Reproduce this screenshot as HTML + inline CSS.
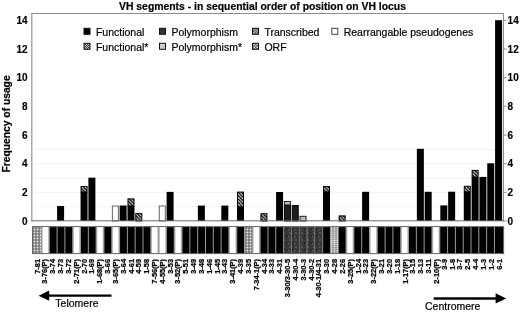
<!DOCTYPE html><html><head><meta charset="utf-8"><style>html,body{margin:0;padding:0;background:#fff;}svg{display:block;will-change:transform;}text{font-family:"Liberation Sans",sans-serif;}</style></head><body>
<svg width="520" height="312" viewBox="0 0 520 312">
<defs>
<pattern id="hatch" patternUnits="userSpaceOnUse" width="3.4" height="3.4"><rect width="3.4" height="3.4" fill="#000"/><path d="M-1,-1 L4.4,4.4 M-1,2.4 L1,4.4 M2.4,-1 L4.4,1" stroke="#fff" stroke-width="1.05"/></pattern>
<pattern id="dots" patternUnits="userSpaceOnUse" width="3" height="3"><rect width="3" height="3" fill="#777"/><circle cx="1.5" cy="1.5" r="0.9" fill="#eee"/></pattern>
<pattern id="ldots" patternUnits="userSpaceOnUse" width="3" height="2.1"><rect width="3" height="2.1" fill="#8a8a8a"/><ellipse cx="1.5" cy="1.05" rx="1.15" ry="0.75" fill="#fafafa"/></pattern>
<pattern id="gtex" patternUnits="userSpaceOnUse" width="6" height="7"><rect width="6" height="7" fill="#383838"/><rect x="1" y="1" width="2" height="2" fill="#555"/><rect x="4" y="4" width="1.5" height="2" fill="#222"/><rect x="0" y="5" width="1.5" height="1.5" fill="#5a5a5a"/><rect x="3.5" y="0.5" width="1.5" height="1.5" fill="#2a2a2a"/></pattern>
<pattern id="chk" patternUnits="userSpaceOnUse" width="2" height="2"><rect width="2" height="2" fill="#333"/><rect width="1" height="1" fill="#ccc"/><rect x="1" y="1" width="1" height="1" fill="#ccc"/></pattern>
<pattern id="hatchL" patternUnits="userSpaceOnUse" width="2.6" height="2.6"><rect width="2.6" height="2.6" fill="#222"/><path d="M-1,-1 L3.6,3.6 M-1,1.6 L1,3.6 M1.6,-1 L3.6,1" stroke="#eee" stroke-width="0.9"/></pattern>
<pattern id="orf" patternUnits="userSpaceOnUse" width="3" height="3"><rect width="3" height="3" fill="#444"/><rect width="1.5" height="1.5" fill="#e0e0e0"/><rect x="1.5" y="1.5" width="1.5" height="1.5" fill="#e0e0e0"/></pattern>
<linearGradient id="wg" x1="0" x2="1" y1="0" y2="0"><stop offset="0" stop-color="#999"/><stop offset="0.2" stop-color="#fff"/><stop offset="0.8" stop-color="#fff"/><stop offset="1" stop-color="#999"/></linearGradient>
</defs>
<text x="119" y="9.6" font-size="10" font-weight="bold" stroke="#000" stroke-width="0.2" textLength="287" lengthAdjust="spacingAndGlyphs">VH segments - in sequential order of position on VH locus</text>
<line x1="32" x2="503" y1="206.67" y2="206.67" stroke="#eeeeee" stroke-width="0.7"/>
<line x1="32" x2="503" y1="192.34" y2="192.34" stroke="#eeeeee" stroke-width="0.7"/>
<line x1="32" x2="503" y1="178.01" y2="178.01" stroke="#eeeeee" stroke-width="0.7"/>
<line x1="32" x2="503" y1="163.68" y2="163.68" stroke="#eeeeee" stroke-width="0.7"/>
<line x1="32" x2="503" y1="149.35" y2="149.35" stroke="#eeeeee" stroke-width="0.7"/>
<line x1="31.1" x2="504" y1="13.5" y2="13.5" stroke="#8c8c8c" stroke-width="1"/>
<line x1="31.8" x2="31.8" y1="13" y2="221.3" stroke="#8c8c8c" stroke-width="1.1"/>
<line x1="503.5" x2="503.5" y1="13" y2="221.3" stroke="#8c8c8c" stroke-width="1"/>
<text x="27.6" y="224.60" font-size="10" font-weight="bold" text-anchor="end" stroke="#000" stroke-width="0.15">0</text>
<line x1="503.5" x2="506.5" y1="221.00" y2="221.00" stroke="#8a8a8a" stroke-width="1"/>
<text x="507.6" y="224.60" font-size="10" font-weight="bold" stroke="#000" stroke-width="0.15">0</text>
<text x="27.6" y="195.94" font-size="10" font-weight="bold" text-anchor="end" stroke="#000" stroke-width="0.15">2</text>
<line x1="503.5" x2="506.5" y1="192.34" y2="192.34" stroke="#8a8a8a" stroke-width="1"/>
<text x="507.6" y="195.94" font-size="10" font-weight="bold" stroke="#000" stroke-width="0.15">2</text>
<text x="27.6" y="167.28" font-size="10" font-weight="bold" text-anchor="end" stroke="#000" stroke-width="0.15">4</text>
<line x1="503.5" x2="506.5" y1="163.68" y2="163.68" stroke="#8a8a8a" stroke-width="1"/>
<text x="507.6" y="167.28" font-size="10" font-weight="bold" stroke="#000" stroke-width="0.15">4</text>
<text x="27.6" y="138.62" font-size="10" font-weight="bold" text-anchor="end" stroke="#000" stroke-width="0.15">6</text>
<line x1="503.5" x2="506.5" y1="135.02" y2="135.02" stroke="#8a8a8a" stroke-width="1"/>
<text x="507.6" y="138.62" font-size="10" font-weight="bold" stroke="#000" stroke-width="0.15">6</text>
<text x="27.6" y="109.96" font-size="10" font-weight="bold" text-anchor="end" stroke="#000" stroke-width="0.15">8</text>
<line x1="503.5" x2="506.5" y1="106.36" y2="106.36" stroke="#8a8a8a" stroke-width="1"/>
<text x="507.6" y="109.96" font-size="10" font-weight="bold" stroke="#000" stroke-width="0.15">8</text>
<text x="27.6" y="81.30" font-size="10" font-weight="bold" text-anchor="end" stroke="#000" stroke-width="0.15">10</text>
<line x1="503.5" x2="506.5" y1="77.70" y2="77.70" stroke="#8a8a8a" stroke-width="1"/>
<text x="507.6" y="81.30" font-size="10" font-weight="bold" stroke="#000" stroke-width="0.15">10</text>
<text x="27.6" y="52.64" font-size="10" font-weight="bold" text-anchor="end" stroke="#000" stroke-width="0.15">12</text>
<line x1="503.5" x2="506.5" y1="49.04" y2="49.04" stroke="#8a8a8a" stroke-width="1"/>
<text x="507.6" y="52.64" font-size="10" font-weight="bold" stroke="#000" stroke-width="0.15">12</text>
<text x="27.6" y="23.98" font-size="10" font-weight="bold" text-anchor="end" stroke="#000" stroke-width="0.15">14</text>
<line x1="503.5" x2="506.5" y1="20.38" y2="20.38" stroke="#8a8a8a" stroke-width="1"/>
<text x="507.6" y="23.98" font-size="10" font-weight="bold" stroke="#000" stroke-width="0.15">14</text>
<text transform="translate(9.6,172.4) rotate(-90)" font-size="10.3" font-weight="bold" stroke="#000" stroke-width="0.2" textLength="97" lengthAdjust="spacingAndGlyphs">Frequency of usage</text>
<rect x="84.0" y="28.3" width="6" height="6" fill="#000" stroke="#111" stroke-width="1"/>
<text x="95.9" y="35.8" font-size="10.5" stroke="#000" stroke-width="0.2">Functional</text>
<rect x="159.5" y="28.3" width="6" height="6" fill="#333" stroke="#111" stroke-width="1"/>
<text x="171.4" y="35.8" font-size="10.5" stroke="#000" stroke-width="0.2">Polymorphism</text>
<rect x="252.5" y="28.3" width="6" height="6" fill="url(#hatchL)" stroke="#111" stroke-width="1"/>
<text x="264.4" y="35.8" font-size="10.5" stroke="#000" stroke-width="0.2">Transcribed</text>
<rect x="331.8" y="28.3" width="6" height="6" fill="#fff" stroke="#444" stroke-width="1"/>
<text x="343.7" y="35.8" font-size="10.5" stroke="#000" stroke-width="0.2">Rearrangable pseudogenes</text>
<rect x="84.0" y="43.3" width="6" height="6" fill="url(#chk)" stroke="#111" stroke-width="1"/>
<text x="95.9" y="51.1" font-size="10.5" stroke="#000" stroke-width="0.2">Functional*</text>
<rect x="159.5" y="43.3" width="6" height="6" fill="#ccc" stroke="#111" stroke-width="1"/>
<text x="171.4" y="51.1" font-size="10.5" stroke="#000" stroke-width="0.2">Polymorphism*</text>
<rect x="252.5" y="43.3" width="6" height="6" fill="url(#orf)" stroke="#111" stroke-width="1"/>
<text x="264.4" y="51.1" font-size="10.5" stroke="#000" stroke-width="0.2">ORF</text>
<rect x="57.09" y="206.00" width="7.00" height="15.00" fill="#000"/>
<rect x="80.56" y="191.90" width="7.00" height="29.10" fill="#000"/>
<rect x="81.06" y="186.50" width="6.00" height="5.40" fill="url(#hatch)" stroke="#000" stroke-width="1"/>
<rect x="88.38" y="177.70" width="7.00" height="43.30" fill="#000"/>
<rect x="112.34" y="206.00" width="6.00" height="15.00" fill="#fff" stroke="#555" stroke-width="0.9"/>
<rect x="119.66" y="205.50" width="7.00" height="15.50" fill="#000"/>
<rect x="127.48" y="206.00" width="7.00" height="15.00" fill="#000"/>
<rect x="127.98" y="198.90" width="6.00" height="7.10" fill="url(#hatch)" stroke="#000" stroke-width="1"/>
<rect x="135.80" y="213.60" width="6.00" height="7.40" fill="url(#hatch)" stroke="#000" stroke-width="1"/>
<rect x="159.27" y="206.00" width="6.00" height="15.00" fill="#fff" stroke="#555" stroke-width="0.9"/>
<rect x="166.59" y="191.90" width="7.00" height="29.10" fill="#000"/>
<rect x="197.87" y="205.60" width="7.00" height="15.40" fill="#000"/>
<rect x="221.33" y="205.60" width="7.00" height="15.40" fill="#000"/>
<rect x="236.98" y="206.80" width="7.00" height="14.20" fill="#000"/>
<rect x="237.48" y="192.10" width="6.00" height="14.70" fill="url(#hatch)" stroke="#000" stroke-width="1"/>
<rect x="260.94" y="213.70" width="6.00" height="7.30" fill="url(#hatch)" stroke="#000" stroke-width="1"/>
<rect x="276.08" y="192.00" width="7.00" height="29.00" fill="#000"/>
<rect x="284.40" y="205.40" width="6.00" height="15.60" fill="#1e1e1e" stroke="#000" stroke-width="1"/>
<rect x="284.40" y="201.50" width="6.00" height="3.40" fill="#bbb" stroke="#222" stroke-width="1"/>
<rect x="292.22" y="205.60" width="6.00" height="15.40" fill="#1e1e1e" stroke="#000" stroke-width="1"/>
<rect x="300.04" y="216.30" width="6.00" height="4.70" fill="#bbb" stroke="#222" stroke-width="1"/>
<rect x="323.01" y="191.80" width="7.00" height="29.20" fill="#000"/>
<rect x="323.51" y="186.60" width="6.00" height="5.20" fill="url(#hatch)" stroke="#000" stroke-width="1"/>
<rect x="339.15" y="215.90" width="6.00" height="5.10" fill="url(#hatch)" stroke="#000" stroke-width="1"/>
<rect x="362.11" y="191.80" width="7.00" height="29.20" fill="#000"/>
<rect x="416.86" y="148.80" width="7.00" height="72.20" fill="#000"/>
<rect x="424.68" y="191.80" width="7.00" height="29.20" fill="#000"/>
<rect x="440.32" y="205.40" width="7.00" height="15.60" fill="#000"/>
<rect x="448.14" y="191.70" width="7.00" height="29.30" fill="#000"/>
<rect x="463.78" y="191.80" width="7.00" height="29.20" fill="#000"/>
<rect x="464.28" y="186.30" width="6.00" height="5.50" fill="url(#hatch)" stroke="#000" stroke-width="1"/>
<rect x="471.61" y="176.90" width="7.00" height="44.10" fill="#000"/>
<rect x="472.11" y="170.40" width="6.00" height="6.50" fill="url(#hatch)" stroke="#000" stroke-width="1"/>
<rect x="479.43" y="176.90" width="7.00" height="44.10" fill="#000"/>
<rect x="487.25" y="163.30" width="7.00" height="57.70" fill="#000"/>
<rect x="495.07" y="20.20" width="7.00" height="200.80" fill="#000"/>
<line x1="31.3" x2="504" y1="220.8" y2="220.8" stroke="#6a6a6a" stroke-width="1"/>
<rect x="32.4" y="226.6" width="471.30" height="27.10" fill="#9a9a9a"/>
<rect x="32.70" y="227.10" width="8.46" height="26.10" fill="url(#dots)"/>
<rect x="41.76" y="227.10" width="7.21" height="26.10" fill="url(#wg)"/>
<rect x="49.77" y="227.10" width="6.81" height="26.10" fill="#000"/>
<rect x="57.58" y="227.10" width="6.81" height="26.10" fill="#000"/>
<rect x="65.39" y="227.10" width="6.81" height="26.10" fill="#000"/>
<rect x="73.00" y="227.10" width="7.21" height="26.10" fill="url(#wg)"/>
<rect x="81.01" y="227.10" width="6.81" height="26.10" fill="#000"/>
<rect x="88.82" y="227.10" width="6.81" height="26.10" fill="#000"/>
<rect x="96.43" y="227.10" width="7.21" height="26.10" fill="url(#wg)"/>
<rect x="104.44" y="227.10" width="6.81" height="26.10" fill="#000"/>
<rect x="112.05" y="227.10" width="7.21" height="26.10" fill="url(#wg)"/>
<rect x="120.06" y="227.10" width="6.81" height="26.10" fill="#000"/>
<rect x="127.87" y="227.10" width="6.81" height="26.10" fill="#000"/>
<rect x="135.68" y="227.10" width="6.81" height="26.10" fill="#000"/>
<rect x="143.49" y="227.10" width="6.81" height="26.10" fill="#000"/>
<rect x="151.10" y="227.10" width="7.21" height="26.10" fill="url(#wg)"/>
<rect x="158.91" y="227.10" width="7.21" height="26.10" fill="url(#wg)"/>
<rect x="166.92" y="227.10" width="6.81" height="26.10" fill="#000"/>
<rect x="174.53" y="227.10" width="7.21" height="26.10" fill="url(#wg)"/>
<rect x="182.54" y="227.10" width="6.81" height="26.10" fill="#000"/>
<rect x="190.35" y="227.10" width="6.81" height="26.10" fill="#000"/>
<rect x="198.16" y="227.10" width="6.81" height="26.10" fill="#000"/>
<rect x="205.97" y="227.10" width="6.81" height="26.10" fill="#000"/>
<rect x="213.78" y="227.10" width="6.81" height="26.10" fill="#000"/>
<rect x="221.59" y="227.10" width="6.81" height="26.10" fill="#000"/>
<rect x="229.20" y="227.10" width="7.21" height="26.10" fill="url(#wg)"/>
<rect x="237.21" y="227.10" width="6.81" height="26.10" fill="#000"/>
<rect x="244.82" y="227.10" width="7.21" height="26.10" fill="url(#dots)"/>
<rect x="252.63" y="227.10" width="7.21" height="26.10" fill="url(#wg)"/>
<rect x="260.64" y="227.10" width="6.81" height="26.10" fill="#000"/>
<rect x="268.45" y="227.10" width="6.81" height="26.10" fill="#000"/>
<rect x="276.26" y="227.10" width="6.81" height="26.10" fill="#000"/>
<rect x="283.87" y="227.10" width="7.21" height="26.10" fill="url(#gtex)"/>
<rect x="291.68" y="227.10" width="7.21" height="26.10" fill="url(#gtex)"/>
<rect x="299.49" y="227.10" width="7.21" height="26.10" fill="url(#gtex)"/>
<rect x="307.30" y="227.10" width="7.21" height="26.10" fill="url(#gtex)"/>
<rect x="315.11" y="227.10" width="7.21" height="26.10" fill="url(#gtex)"/>
<rect x="323.12" y="227.10" width="6.81" height="26.10" fill="#000"/>
<rect x="330.73" y="227.10" width="7.21" height="26.10" fill="url(#ldots)"/>
<rect x="338.74" y="227.10" width="6.81" height="26.10" fill="#000"/>
<rect x="346.35" y="227.10" width="7.21" height="26.10" fill="url(#wg)"/>
<rect x="354.36" y="227.10" width="6.81" height="26.10" fill="#000"/>
<rect x="362.17" y="227.10" width="6.81" height="26.10" fill="#000"/>
<rect x="369.78" y="227.10" width="7.21" height="26.10" fill="url(#wg)"/>
<rect x="377.79" y="227.10" width="6.81" height="26.10" fill="#000"/>
<rect x="385.60" y="227.10" width="6.81" height="26.10" fill="#000"/>
<rect x="393.41" y="227.10" width="6.81" height="26.10" fill="#000"/>
<rect x="401.02" y="227.10" width="7.21" height="26.10" fill="url(#wg)"/>
<rect x="409.03" y="227.10" width="6.81" height="26.10" fill="#000"/>
<rect x="416.84" y="227.10" width="6.81" height="26.10" fill="#000"/>
<rect x="424.65" y="227.10" width="6.81" height="26.10" fill="#000"/>
<rect x="432.26" y="227.10" width="7.21" height="26.10" fill="url(#wg)"/>
<rect x="440.27" y="227.10" width="6.81" height="26.10" fill="#000"/>
<rect x="448.08" y="227.10" width="6.81" height="26.10" fill="#000"/>
<rect x="455.89" y="227.10" width="6.81" height="26.10" fill="#000"/>
<rect x="463.70" y="227.10" width="6.81" height="26.10" fill="#000"/>
<rect x="471.51" y="227.10" width="6.81" height="26.10" fill="#000"/>
<rect x="479.32" y="227.10" width="6.81" height="26.10" fill="#000"/>
<rect x="487.13" y="227.10" width="6.81" height="26.10" fill="#000"/>
<rect x="494.94" y="227.10" width="8.26" height="26.10" fill="#000"/>
<rect x="32.4" y="226.6" width="471.30" height="27.10" fill="none" stroke="#555" stroke-width="0.8"/>
<text transform="translate(39.55,259) rotate(-90)" font-size="7.4" font-weight="bold" text-anchor="end" stroke="#000" stroke-width="0.25">7-81</text>
<text transform="translate(47.38,259) rotate(-90)" font-size="7.4" font-weight="bold" text-anchor="end" stroke="#000" stroke-width="0.25">3-76(P)</text>
<text transform="translate(55.21,259) rotate(-90)" font-size="7.4" font-weight="bold" text-anchor="end" stroke="#000" stroke-width="0.25">3-74</text>
<text transform="translate(63.04,259) rotate(-90)" font-size="7.4" font-weight="bold" text-anchor="end" stroke="#000" stroke-width="0.25">3-73</text>
<text transform="translate(70.87,259) rotate(-90)" font-size="7.4" font-weight="bold" text-anchor="end" stroke="#000" stroke-width="0.25">3-72</text>
<text transform="translate(78.70,259) rotate(-90)" font-size="7.4" font-weight="bold" text-anchor="end" stroke="#000" stroke-width="0.25">2-71(P)</text>
<text transform="translate(86.53,259) rotate(-90)" font-size="7.4" font-weight="bold" text-anchor="end" stroke="#000" stroke-width="0.25">2-70</text>
<text transform="translate(94.36,259) rotate(-90)" font-size="7.4" font-weight="bold" text-anchor="end" stroke="#000" stroke-width="0.25">1-69</text>
<text transform="translate(102.19,259) rotate(-90)" font-size="7.4" font-weight="bold" text-anchor="end" stroke="#000" stroke-width="0.25">1-68(P)</text>
<text transform="translate(110.02,259) rotate(-90)" font-size="7.4" font-weight="bold" text-anchor="end" stroke="#000" stroke-width="0.25">3-66</text>
<text transform="translate(117.85,259) rotate(-90)" font-size="7.4" font-weight="bold" text-anchor="end" stroke="#000" stroke-width="0.25">3-65(P)</text>
<text transform="translate(125.68,259) rotate(-90)" font-size="7.4" font-weight="bold" text-anchor="end" stroke="#000" stroke-width="0.25">3-64</text>
<text transform="translate(133.51,259) rotate(-90)" font-size="7.4" font-weight="bold" text-anchor="end" stroke="#000" stroke-width="0.25">4-61</text>
<text transform="translate(141.34,259) rotate(-90)" font-size="7.4" font-weight="bold" text-anchor="end" stroke="#000" stroke-width="0.25">4-59</text>
<text transform="translate(149.17,259) rotate(-90)" font-size="7.4" font-weight="bold" text-anchor="end" stroke="#000" stroke-width="0.25">1-58</text>
<text transform="translate(157.00,259) rotate(-90)" font-size="7.4" font-weight="bold" text-anchor="end" stroke="#000" stroke-width="0.25">7-56(P)</text>
<text transform="translate(164.83,259) rotate(-90)" font-size="7.4" font-weight="bold" text-anchor="end" stroke="#000" stroke-width="0.25">4-55(P)</text>
<text transform="translate(172.66,259) rotate(-90)" font-size="7.4" font-weight="bold" text-anchor="end" stroke="#000" stroke-width="0.25">3-53</text>
<text transform="translate(180.49,259) rotate(-90)" font-size="7.4" font-weight="bold" text-anchor="end" stroke="#000" stroke-width="0.25">3-52(P)</text>
<text transform="translate(188.32,259) rotate(-90)" font-size="7.4" font-weight="bold" text-anchor="end" stroke="#000" stroke-width="0.25">5-51</text>
<text transform="translate(196.15,259) rotate(-90)" font-size="7.4" font-weight="bold" text-anchor="end" stroke="#000" stroke-width="0.25">3-49</text>
<text transform="translate(203.98,259) rotate(-90)" font-size="7.4" font-weight="bold" text-anchor="end" stroke="#000" stroke-width="0.25">3-48</text>
<text transform="translate(211.81,259) rotate(-90)" font-size="7.4" font-weight="bold" text-anchor="end" stroke="#000" stroke-width="0.25">1-46</text>
<text transform="translate(219.64,259) rotate(-90)" font-size="7.4" font-weight="bold" text-anchor="end" stroke="#000" stroke-width="0.25">1-45</text>
<text transform="translate(227.47,259) rotate(-90)" font-size="7.4" font-weight="bold" text-anchor="end" stroke="#000" stroke-width="0.25">3-43</text>
<text transform="translate(235.30,259) rotate(-90)" font-size="7.4" font-weight="bold" text-anchor="end" stroke="#000" stroke-width="0.25">3-41(P)</text>
<text transform="translate(243.13,259) rotate(-90)" font-size="7.4" font-weight="bold" text-anchor="end" stroke="#000" stroke-width="0.25">4-39</text>
<text transform="translate(250.96,259) rotate(-90)" font-size="7.4" font-weight="bold" text-anchor="end" stroke="#000" stroke-width="0.25">3-35</text>
<text transform="translate(258.79,259) rotate(-90)" font-size="7.4" font-weight="bold" text-anchor="end" stroke="#000" stroke-width="0.25">7-34-1(P)</text>
<text transform="translate(266.62,259) rotate(-90)" font-size="7.4" font-weight="bold" text-anchor="end" stroke="#000" stroke-width="0.25">4-34</text>
<text transform="translate(274.45,259) rotate(-90)" font-size="7.4" font-weight="bold" text-anchor="end" stroke="#000" stroke-width="0.25">3-33</text>
<text transform="translate(282.28,259) rotate(-90)" font-size="7.4" font-weight="bold" text-anchor="end" stroke="#000" stroke-width="0.25">4-31</text>
<text transform="translate(290.11,259) rotate(-90)" font-size="7.4" font-weight="bold" text-anchor="end" stroke="#000" stroke-width="0.25">3-30/3-30-5</text>
<text transform="translate(297.94,259) rotate(-90)" font-size="7.4" font-weight="bold" text-anchor="end" stroke="#000" stroke-width="0.25">4-30-4</text>
<text transform="translate(305.77,259) rotate(-90)" font-size="7.4" font-weight="bold" text-anchor="end" stroke="#000" stroke-width="0.25">3-30-3</text>
<text transform="translate(313.60,259) rotate(-90)" font-size="7.4" font-weight="bold" text-anchor="end" stroke="#000" stroke-width="0.25">4-30-2</text>
<text transform="translate(321.43,259) rotate(-90)" font-size="7.4" font-weight="bold" text-anchor="end" stroke="#000" stroke-width="0.25">4-30-1/4-31</text>
<text transform="translate(329.26,259) rotate(-90)" font-size="7.4" font-weight="bold" text-anchor="end" stroke="#000" stroke-width="0.25">3-30</text>
<text transform="translate(337.09,259) rotate(-90)" font-size="7.4" font-weight="bold" text-anchor="end" stroke="#000" stroke-width="0.25">4-28</text>
<text transform="translate(344.92,259) rotate(-90)" font-size="7.4" font-weight="bold" text-anchor="end" stroke="#000" stroke-width="0.25">2-26</text>
<text transform="translate(352.75,259) rotate(-90)" font-size="7.4" font-weight="bold" text-anchor="end" stroke="#000" stroke-width="0.25">3-25(P)</text>
<text transform="translate(360.58,259) rotate(-90)" font-size="7.4" font-weight="bold" text-anchor="end" stroke="#000" stroke-width="0.25">1-24</text>
<text transform="translate(368.41,259) rotate(-90)" font-size="7.4" font-weight="bold" text-anchor="end" stroke="#000" stroke-width="0.25">3-23</text>
<text transform="translate(376.24,259) rotate(-90)" font-size="7.4" font-weight="bold" text-anchor="end" stroke="#000" stroke-width="0.25">3-22(P)</text>
<text transform="translate(384.07,259) rotate(-90)" font-size="7.4" font-weight="bold" text-anchor="end" stroke="#000" stroke-width="0.25">3-21</text>
<text transform="translate(391.90,259) rotate(-90)" font-size="7.4" font-weight="bold" text-anchor="end" stroke="#000" stroke-width="0.25">3-20</text>
<text transform="translate(399.73,259) rotate(-90)" font-size="7.4" font-weight="bold" text-anchor="end" stroke="#000" stroke-width="0.25">1-18</text>
<text transform="translate(407.56,259) rotate(-90)" font-size="7.4" font-weight="bold" text-anchor="end" stroke="#000" stroke-width="0.25">1-17(P)</text>
<text transform="translate(415.39,259) rotate(-90)" font-size="7.4" font-weight="bold" text-anchor="end" stroke="#000" stroke-width="0.25">3-15</text>
<text transform="translate(423.22,259) rotate(-90)" font-size="7.4" font-weight="bold" text-anchor="end" stroke="#000" stroke-width="0.25">3-13</text>
<text transform="translate(431.05,259) rotate(-90)" font-size="7.4" font-weight="bold" text-anchor="end" stroke="#000" stroke-width="0.25">3-11</text>
<text transform="translate(438.88,259) rotate(-90)" font-size="7.4" font-weight="bold" text-anchor="end" stroke="#000" stroke-width="0.25">2-10(P)</text>
<text transform="translate(446.71,259) rotate(-90)" font-size="7.4" font-weight="bold" text-anchor="end" stroke="#000" stroke-width="0.25">3-9</text>
<text transform="translate(454.54,259) rotate(-90)" font-size="7.4" font-weight="bold" text-anchor="end" stroke="#000" stroke-width="0.25">1-8</text>
<text transform="translate(462.37,259) rotate(-90)" font-size="7.4" font-weight="bold" text-anchor="end" stroke="#000" stroke-width="0.25">3-7</text>
<text transform="translate(470.20,259) rotate(-90)" font-size="7.4" font-weight="bold" text-anchor="end" stroke="#000" stroke-width="0.25">2-5</text>
<text transform="translate(478.03,259) rotate(-90)" font-size="7.4" font-weight="bold" text-anchor="end" stroke="#000" stroke-width="0.25">4-4</text>
<text transform="translate(485.86,259) rotate(-90)" font-size="7.4" font-weight="bold" text-anchor="end" stroke="#000" stroke-width="0.25">1-3</text>
<text transform="translate(493.69,259) rotate(-90)" font-size="7.4" font-weight="bold" text-anchor="end" stroke="#000" stroke-width="0.25">1-2</text>
<text transform="translate(501.52,259) rotate(-90)" font-size="7.4" font-weight="bold" text-anchor="end" stroke="#000" stroke-width="0.25">6-1</text>
<line x1="47" x2="111.5" y1="295.7" y2="295.7" stroke="#000" stroke-width="2.3"/>
<polygon points="38.6,295.7 49.2,290.6 49.2,300.8" fill="#000"/>
<line x1="433.7" x2="497" y1="298.4" y2="298.4" stroke="#000" stroke-width="2.5"/>
<polygon points="506.2,298.4 495.6,293.3 495.6,303.5" fill="#000"/>
<text x="55.3" y="307.3" font-size="10.5" stroke="#000" stroke-width="0.2">Telomere</text>
<text x="425" y="310.4" font-size="10.5" stroke="#000" stroke-width="0.2">Centromere</text>
</svg></body></html>
